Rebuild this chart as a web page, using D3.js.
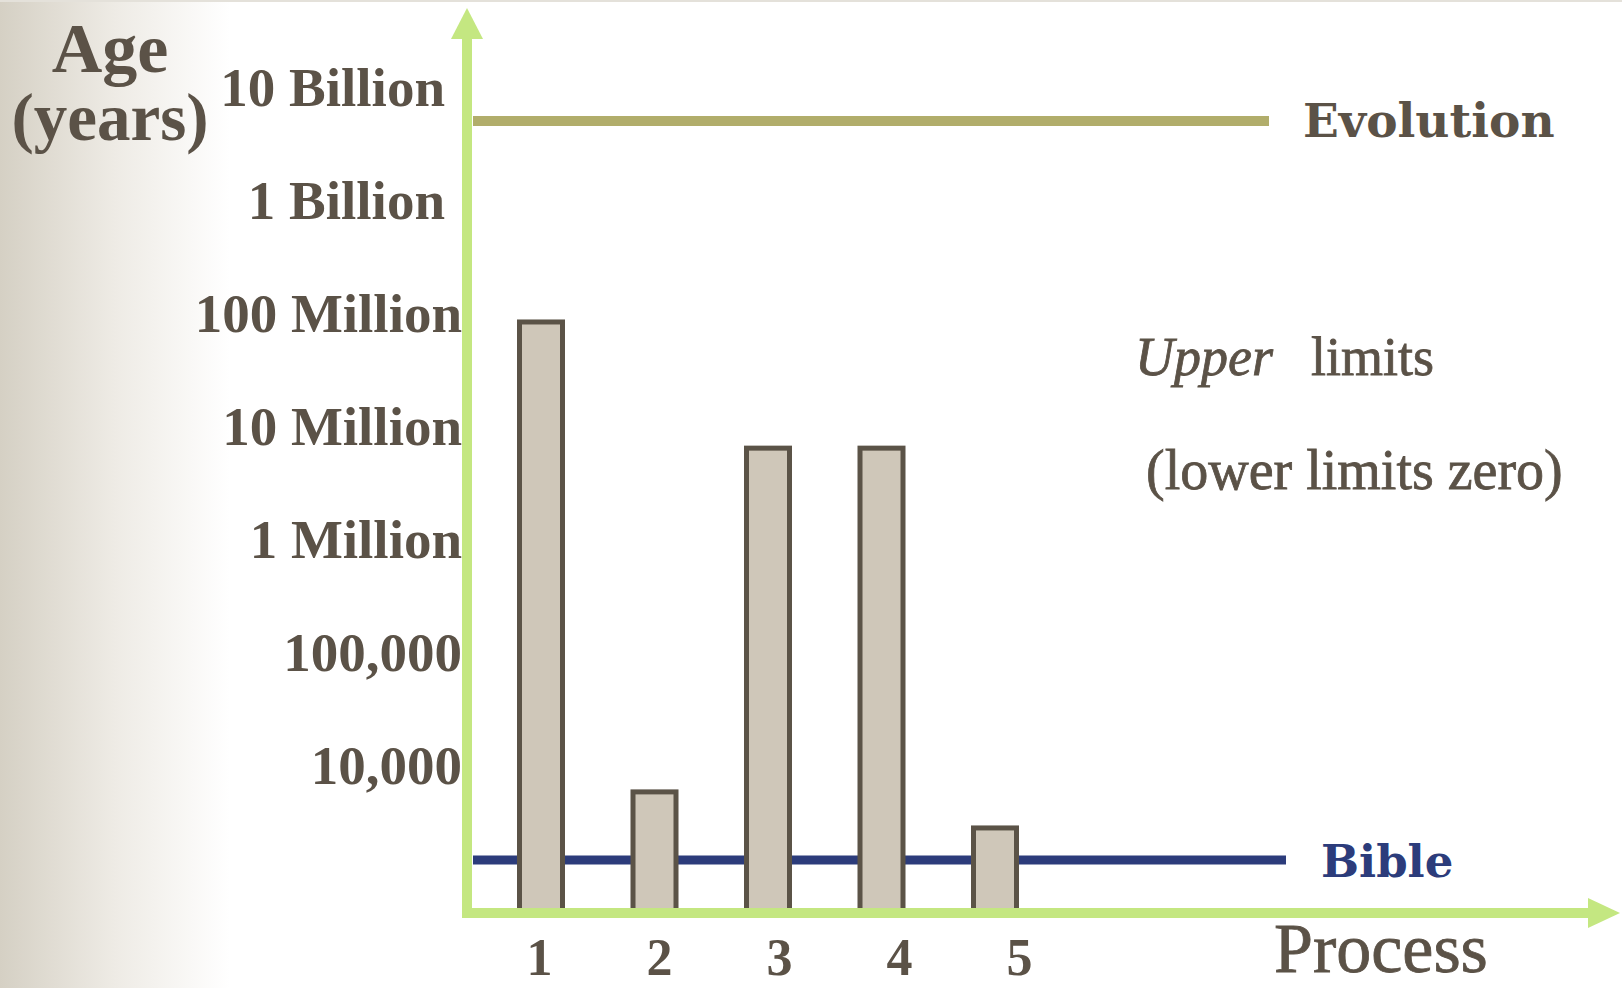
<!DOCTYPE html>
<html><head><meta charset="utf-8">
<script src="https://cdn.jsdelivr.net/npm/d3@7/dist/d3.min.js"></script>
<style>html,body{margin:0;padding:0;background:#fff;overflow:hidden}</style>
</head><body>
<svg id="c" width="1622" height="988"></svg>
<script>
// ---- data ----
const processes = ["1","2","3","4","5"];
const upperLimits = [8.5e7, 5900, 6.5e6, 6.5e6, 2830];
const evolutionAge = 5.1e9;
const bibleAge = 1470;
const tickValues = [1e4, 1e5, 1e6, 1e7, 1e8, 1e9, 1e10];
const tickLabels = ["10,000", "100,000", "1 Million", "10 Million", "100 Million", "1 Billion", "10 Billion"];
const baseValue = 500;

// ---- layout ----
const W = 1622, H = 988;
const axisX = 467, axisY = 913;
const textCol = "#5b5247", green = "#c4e781";
const svg = d3.select("#c");

const defs = svg.append("defs");
const grad = defs.append("linearGradient").attr("id","bg").attr("x1","0").attr("x2","1").attr("y1","0").attr("y2","0");
grad.append("stop").attr("offset","0").attr("stop-color","#d5d0c4");
grad.append("stop").attr("offset","0.5").attr("stop-color","#eeebe5");
grad.append("stop").attr("offset","1").attr("stop-color","#ffffff");
svg.append("rect").attr("x",0).attr("y",0).attr("width",230).attr("height",H).attr("fill","url(#bg)");
svg.append("rect").attr("x",0).attr("y",0).attr("width",W).attr("height",2).attr("fill","#e4e1da");

const y = d3.scaleLog().domain([1e3, 1e10]).range([879, 88]);
const xBar = d3.scalePoint().domain(processes).range([541, 995]);
const xLab = d3.scalePoint().domain(processes).range([539, 1019]);

// Bible line (behind bars)
svg.append("line").attr("x1", axisX + 6).attr("x2", 1286)
  .attr("y1", y(bibleAge)).attr("y2", y(bibleAge))
  .attr("stroke","#2c3c7b").attr("stroke-width",9);
// Evolution line
svg.append("line").attr("x1", axisX + 6).attr("x2", 1269)
  .attr("y1", y(evolutionAge)).attr("y2", y(evolutionAge))
  .attr("stroke","#b1ad6b").attr("stroke-width",10);

// bars
const bw = 43;
svg.append("g").selectAll("rect").data(upperLimits).join("rect")
  .attr("x", (d,i) => xBar(processes[i]) - bw/2)
  .attr("y", d => y(d))
  .attr("width", bw)
  .attr("height", d => y(baseValue) - y(d))
  .attr("fill","#cfc7b9").attr("stroke","#5b5347").attr("stroke-width",5);

// axes lines + arrows
svg.append("line").attr("x1",axisX).attr("x2",axisX).attr("y1",36).attr("y2",axisY+5)
  .attr("stroke",green).attr("stroke-width",10);
svg.append("path").attr("d",`M${axisX-16},39 L${axisX},8 L${axisX+16},39 Z`).attr("fill",green);
svg.append("line").attr("x1",axisX).attr("x2",1592).attr("y1",axisY).attr("y2",axisY)
  .attr("stroke",green).attr("stroke-width",10);
svg.append("path").attr("d",`M1588,${axisY-15} L1620,${axisY} L1588,${axisY+15} Z`).attr("fill",green);

// y tick labels
const yAxis = d3.axisLeft(y).tickValues(tickValues).tickSize(0).tickPadding(0)
  .tickFormat((d,i) => tickLabels[i]);
const gy = svg.append("g").attr("transform","translate(462,0)").call(yAxis);
gy.select(".domain").remove();
gy.selectAll("text").attr("font-family","'Liberation Serif', serif").attr("font-weight","bold")
  .attr("font-size",55).attr("fill",textCol)
  .attr("x", (d) => d >= 1e9 ? -17 : 0);

// x tick labels
const xAxis = d3.axisBottom(xLab).tickSize(0).tickPadding(0);
const gx = svg.append("g").attr("transform","translate(0,939)").call(xAxis);
gx.select(".domain").remove();
gx.selectAll("text").attr("font-family","'Liberation Serif', serif").attr("font-weight","bold")
  .attr("font-size",52).attr("fill",textCol).attr("dy","0.7em");

// titles
const t = svg.append("g").attr("font-family","'Liberation Serif', serif").attr("fill",textCol);
t.append("text").attr("x",110).attr("y",72).attr("text-anchor","middle").attr("font-weight","bold").attr("font-size",70).text("Age");
t.append("text").attr("x",110).attr("y",140).attr("text-anchor","middle").attr("font-weight","bold").attr("font-size",67).text("(years)");
const med = svg.append("g").attr("font-family","'Liberation Serif', serif").attr("fill",textCol)
  .attr("stroke",textCol).attr("stroke-width",0.8);
med.append("text").attr("x",1274).attr("y",972).attr("font-size",70).text("Process");
const up = med.append("text").attr("x",1135).attr("y",375).attr("font-size",54);
up.append("tspan").attr("font-style","italic").text("Upper");
up.append("tspan").attr("dx",38).text("limits");
med.append("text").attr("x",1146).attr("y",489).attr("font-size",56).text("(lower limits zero)");

svg.append("text").attr("x",1303).attr("y",137).attr("font-family","'DejaVu Serif', serif").attr("font-weight","bold")
  .attr("font-size",47).attr("fill",textCol).text("Evolution");
svg.append("text").attr("x",1321).attr("y",877).attr("font-family","'DejaVu Serif', serif").attr("font-weight","bold")
  .attr("font-size",45).attr("fill","#2c3c7b").text("Bible");
</script>
</body></html>
